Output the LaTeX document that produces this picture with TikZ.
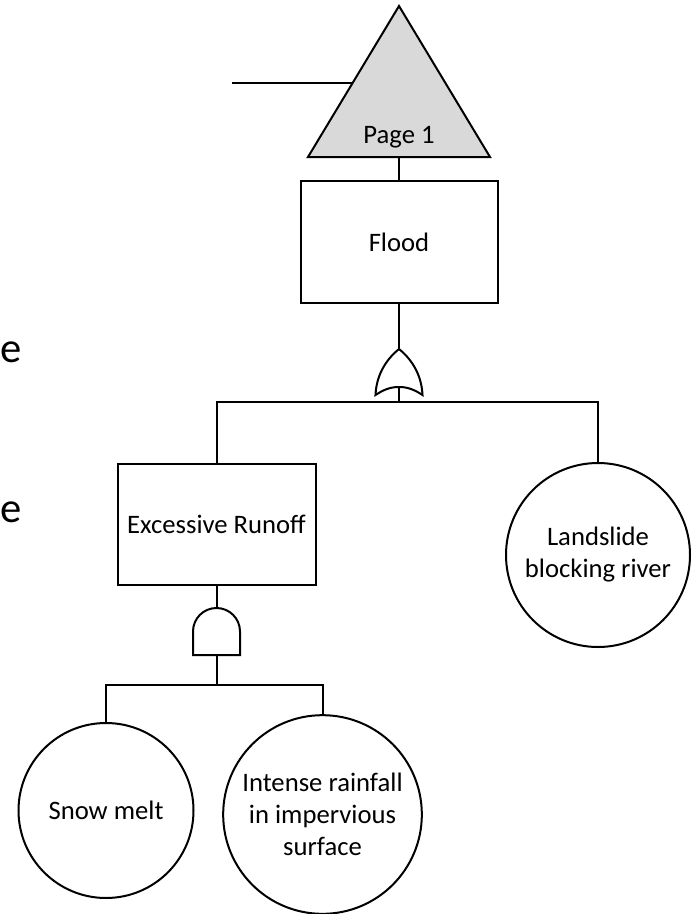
\documentclass[tikz,border=0pt]{standalone}
\usepackage{fontspec}
\setmainfont{Carlito}
\usepackage{xcolor}
\usepackage{tikz}
\usetikzlibrary{positioning,%
  shapes.geometric%
}
\definecolor{xfergray}{RGB}{217,217,217}

\begin{document}
\begin{tikzpicture}[x=0.75pt,y=-0.75pt,line width=1.5pt,
    txt/.style={font=\fontsize{20}{24}\selectfont,align=center,inner sep=0pt},
    event/.style={txt,draw,rectangle},
    basic/.style={txt,draw,circle},
    xfer/.style={draw,fill=xfergray,line join=miter}]
            \useasboundingbox (0,0) rectangle (696,914);

            % transfer triangle and its feed line
            \draw[xfer] (399,6) -- (490,157) -- (308,157) -- cycle;
            \node[txt] (pagelbl) at (399,137) {Page 1};
            \coordinate (xferin) at (352.6,83);
            \coordinate (feed) at (232,83);
            \coordinate (xferout) at (399,157);
            \draw (feed) -- (xferin);

            % events
            \node[event,minimum width=147.75pt,minimum height=91.5pt] (flood) at (399,242) {Flood};
            \node[event,minimum width=148.5pt,minimum height=90.75pt] (runoff) at (216.5,524.5) {Excessive Runoff};
            \node[basic,minimum size=138pt] (slide) at (598,555) {Landslide\\blocking river};
            \node[basic,minimum size=131.25pt] (snow) at (106,810.5) {Snow melt};
            \node[basic,minimum size=149pt] (rain) at (322.5,814.5) {Intense rainfall\\in impervious\\surface};

            % or gate
            \coordinate (ortop) at (399,349);
            \coordinate (orout) at (399,387);
            \coordinate (orbar) at (399,402);
            \draw (375.5,395) .. controls (376.5,372) and (389,357) .. (ortop)
                  .. controls (409,357) and (421.5,372) .. (422.5,395)
                  .. controls (412,388) and (405,387) .. (orout)
                  .. controls (393,387) and (386,388) .. (375.5,395) -- cycle;

            % and gate
            \coordinate (andtop) at (216.5,608);
            \coordinate (andout) at (216.5,655);
            \coordinate (andbar) at (216.5,685);
            \draw (193,655) -- (193,631.5) arc[start angle=180,end angle=0,radius=17.625pt] -- (240,655) -- cycle;

            % connectors
            \draw (xferout) -- (flood.north);
            \draw (flood.south) -- (ortop);
            \draw (orout) -- (orbar);
            \draw (runoff.north) |- (orbar) -| (slide.north);
            \draw (runoff.south) -- (andtop);
            \draw (andout) -- (andbar);
            \draw (snow.north) |- (andbar) -| (rain.north);

            % letters at the left edge
            \node[anchor=base west,inner sep=0pt,font=\fontsize{32}{38}\selectfont] (cuta) at (-1,362.5) {e};
            \node[anchor=base west,inner sep=0pt,font=\fontsize{32}{38}\selectfont] (cutb) at (-1,522.5) {e};
        \end{tikzpicture}
\end{document}
